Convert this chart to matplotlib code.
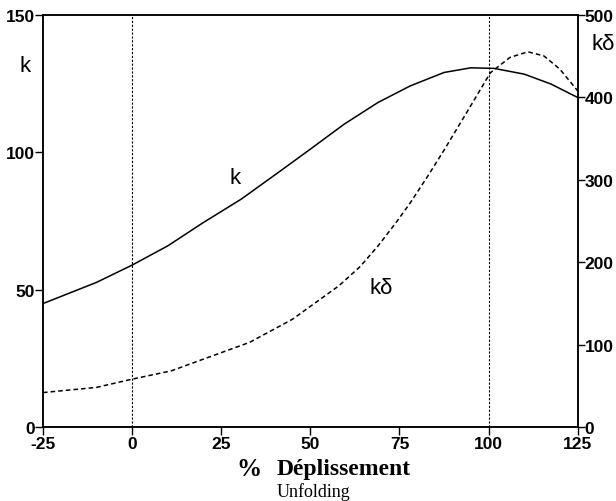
import numpy as np
import matplotlib
matplotlib.use("Agg")
import matplotlib.pyplot as plt

# k curve (left axis)
x_k = [-25, -10, 0, 10, 20, 30.6, 41, 50, 59.5, 69, 78, 87.5, 95, 101.5, 110, 117.5, 125]
k = [45, 52.7, 59, 66, 74.5, 83, 92.7, 101.2, 110.3, 118.2, 124.2, 129.1, 130.8, 130.6, 128.5, 124.9, 120]

# k-delta curve (right axis)
x_kd = [-25, -10, 0, 11, 20, 33, 45, 58, 64, 69, 74, 78, 83, 87.5, 95, 100.5, 106, 111, 115.5, 120, 125]
kd = [42, 48.3, 58.3, 68.4, 82.6, 103, 131, 171.5, 195, 220, 248, 272, 305, 336, 390, 430, 448.6, 455.4, 450.5, 434.4, 408]

xticks = [-25, 0, 25, 50, 75, 100, 125]
yticks_left = [0, 50, 100, 150]
yticks_right = [0, 100, 200, 300, 400, 500]
vlines = [0, 100]

tick_font = dict(family="Liberation Sans", weight="bold", size=12.5)

fig = plt.figure(figsize=(6.16, 5.02), dpi=100)
ax = fig.add_axes([0.0698, 0.147, 0.868, 0.821])
ax2 = ax.twinx()

ax.plot(x_k, k, color="black", lw=1.1, solid_joinstyle="round")
ax2.plot(x_kd, kd, color="black", lw=1.1, linestyle=(0, (3, 2)))
for v in vlines:
    ax.axvline(v, color="black", lw=0.8, linestyle=(0, (2, 1.5)))

ax.set_xlim(-25, 125)
ax.set_ylim(0, 150)
ax2.set_ylim(0, 500)
ax.set_xticks(xticks)
ax.set_yticks(yticks_left)
ax2.set_yticks(yticks_right)
ax.set_xticklabels([str(t) for t in xticks], fontdict=tick_font)
ax.set_yticklabels([str(t) for t in yticks_left], fontdict=tick_font)
ax2.set_yticklabels([str(t) for t in yticks_right], fontdict=tick_font)
ax.tick_params(direction="out", length=6, width=1, pad=0)
ax2.tick_params(direction="out", length=5, width=1, pad=0)
for a in (ax, ax2):
    for s in a.spines.values():
        s.set_linewidth(1.1)

lab = dict(fontsize=16, family="Liberation Sans", ha="center", va="center")
ax.text(28.8, 91, "k", **lab)
ax.text(69.8, 51, "k\u03b4", **lab)
fig.text(25 / 616, 1 - 66 / 502, "k", **lab)
fig.text(603 / 616, 1 - 45 / 502, "k\u03b4", **lab)

fig.text(249 / 616, 1 - 470 / 502, "%", fontsize=18, family="Liberation Serif",
         weight="bold", ha="center", va="center")
fig.text(277 / 616, 1 - 470 / 502, "D\u00e9plissement", fontsize=17, family="Liberation Serif",
         weight="bold", ha="left", va="center")
fig.text(277 / 616, 1 - 492 / 502, "Unfolding", fontsize=13, family="Liberation Serif",
         ha="left", va="center")

fig.savefig("out.png", dpi=100)
